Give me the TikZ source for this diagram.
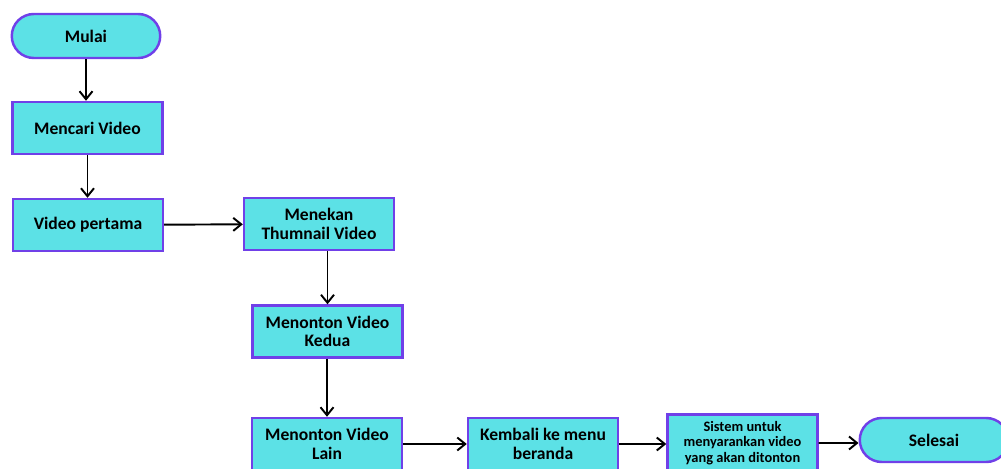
\documentclass[tikz,border=0pt]{standalone}
\usepackage{fontspec}
\setmainfont{Carlito}
\usetikzlibrary{arrows.meta,shapes.misc}
\definecolor{boxfill}{RGB}{92,225,230}
\definecolor{boxline}{RGB}{112,64,232}

\begin{document}
\begin{tikzpicture}[x=0.02cm, y=-0.02cm,
  proc/.style={draw=boxline, fill=boxfill, line width=1.4pt, minimum width=3.0cm,
    minimum height=1.04cm, align=center, inner sep=1pt,
    font=\fontsize{10}{10.6}\selectfont\bfseries},
  term/.style={proc, rounded rectangle, minimum width=3.04cm, minimum height=0.88cm},
  arr/.style={-{Straight Barb[length=1.6mm,width=2.6mm]}, line width=1.1pt}]
\useasboundingbox (0,0) rectangle (1001,469);
\clip (0,0) rectangle (1001,469);

\node[term] (mulai) at (86, 36) {Mulai};
\node[proc] (cari) at (87.5, 128) {Mencari Video};
\node[proc] (pertama) at (88, 225) {Video pertama};
\node[proc] (tekan) at (319, 224) {Menekan\\Thumnail Video};
\node[proc] (kedua) at (327.5, 331.5) {Menonton Video\\Kedua};
\node[proc] (lain) at (327, 444) {Menonton Video\\Lain};
\node[proc] (kembali) at (543, 444) {Kembali ke menu\\beranda};
\node[proc, minimum height=1.14cm, font=\fontsize{8.2}{9}\selectfont\bfseries] (sistem) at (742.5, 443)
  {Sistem untuk\\menyarankan video\\yang akan ditonton};
\node[term] (selesai) at (934, 440) {Selesai};

\draw[arr] (mulai) -- (mulai.south |- cari.north);
\draw[arr] (cari) -- (cari.south |- pertama.north);
\draw[arr] (pertama) -- (tekan);
\draw[arr] (tekan.south -| kedua.north) -- (kedua.north);
\draw[arr] (kedua.south -| lain.north) -- (lain.north);
\draw[arr] (lain) -- (kembali);
\draw[arr] (kembali) -- (sistem.west |- kembali.east);
\draw[arr] (sistem.east |- selesai.center) ++(0,3) -- ([yshift=-0.06cm]selesai.west);
\end{tikzpicture}
\end{document}
